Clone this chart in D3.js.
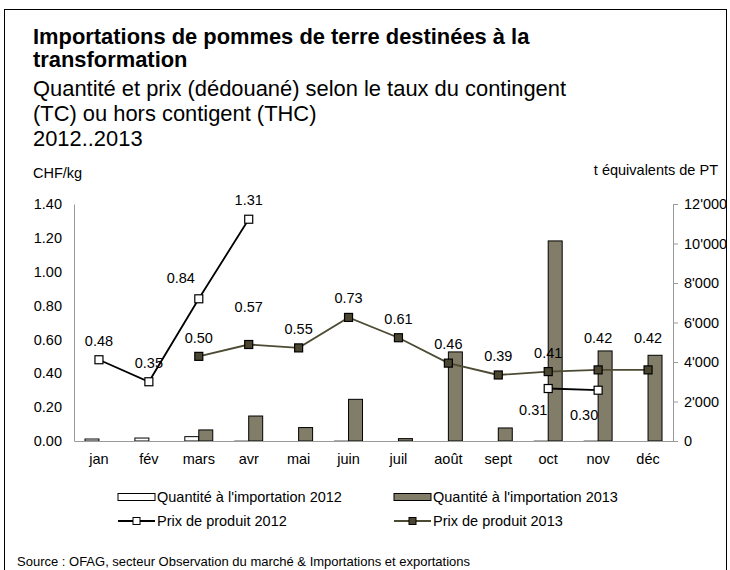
<!DOCTYPE html>
<html>
<head>
<meta charset="utf-8">
<style>
  body { margin: 0; background: #fff; }
  svg text { font-family: "Liberation Sans", Arial, sans-serif; fill: #000; }
</style>
</head>
<body>
<div id="chart"></div>
<script src="https://d3js.org/d3.v7.min.js"></script>
<script>
// data
const months = ['jan', 'fév', 'mars', 'avr', 'mai', 'juin', 'juil', 'août', 'sept', 'oct', 'nov', 'déc'];
const qty2012 = [100, 150, 220, 25, 0, 25, 0, 0, 0, 25, 25, 0];
const qty2013 = [0, 0, 560, 1265, 680, 2110, 120, 4510, 660, 10130, 4560, 4340];
const price2012 = [0.48, 0.35, 0.84, 1.31, null, null, null, null, null, 0.31, 0.30, null];
const price2013 = [null, null, 0.50, 0.57, 0.55, 0.73, 0.61, 0.46, 0.39, 0.41, 0.42, 0.42];
const leftTicks = [0, 0.2, 0.4, 0.6, 0.8, 1.0, 1.2, 1.4];
const rightTicks = [0, 2000, 4000, 6000, 8000, 10000, 12000];

// label nudges (px) like the hand-placed excel labels
const lab2012 = { 'mars': [-18, -21], 'oct': [-15, 21], 'nov': [-14, 25] };
const lab2013 = { 'mars': [0, -18], 'avr': [0, -38], 'nov': [0, -32], 'déc': [0, -32] };

const width = 730, height = 570;
const plotL = 74, plotR = 673, plotT = 204, plotB = 441;
const fs = '14.5px';

const barFill = '#827d69';
const darkFill = '#4b4632';
const lineCol13 = '#4d4a33';

const svg = d3.select('#chart').append('svg')
  .attr('width', width)
  .attr('height', height);

// frame
svg.append('rect')
  .attr('x', 4.5).attr('y', 9.5)
  .attr('width', 722).attr('height', 580)
  .attr('fill', 'none').attr('stroke', '#000').attr('stroke-width', 1);

// titles
const title = svg.append('g').attr('transform', 'translate(33,0)');
title.append('text').attr('y', 44).style('font-size', '21.9px').style('font-weight', 'bold')
  .text('Importations de pommes de terre destinées à la');
title.append('text').attr('y', 67).style('font-size', '21.9px').style('font-weight', 'bold')
  .text('transformation');
title.append('text').attr('y', 96).style('font-size', '21.9px')
  .text('Quantité et prix (dédouané) selon le taux du contingent');
title.append('text').attr('y', 121).style('font-size', '21.9px')
  .text('(TC) ou hors contigent (THC)');
title.append('text').attr('y', 146).style('font-size', '21.9px')
  .text('2012..2013');

svg.append('text').attr('x', 33).attr('y', 178).style('font-size', fs).text('CHF/kg');
svg.append('text').attr('x', 718).attr('y', 175).attr('text-anchor', 'end')
  .style('font-size', fs).text('t équivalents de PT');

// scales
const x = d3.scaleBand().domain(months).range([plotL, plotR]).padding(0);
const yL = d3.scaleLinear().domain([0, 1.4]).range([plotB, plotT]);
const yR = d3.scaleLinear().domain([0, 12000]).range([plotB, plotT]);
const bw = x.bandwidth() * 0.28;
const cx = m => x(m) + x.bandwidth() / 2;

// axes
const axL = svg.append('g').attr('transform', `translate(${plotL},0)`)
  .call(d3.axisLeft(yL).tickValues(leftTicks).tickSize(0).tickPadding(12).tickFormat(d3.format('.2f')));
const axR = svg.append('g').attr('transform', `translate(${plotR},0)`)
  .call(d3.axisRight(yR).tickValues(rightTicks).tickSize(5).tickPadding(6)
    .tickFormat(d => d3.format(',')(d).replace(/,/g, "'")));
[axL, axR].forEach(a => {
  a.select('.domain').attr('stroke', '#9a9a9a');
  a.selectAll('.tick line').attr('stroke', '#9a9a9a');
  a.selectAll('text').style('font-size', fs).attr('font-family', null);
});

// bars
svg.append('g').selectAll('rect')
  .data(months.map((m, i) => ({ m, v: qty2012[i] })).filter(d => d.v > 0))
  .join('rect')
  .attr('x', d => cx(d.m) - bw)
  .attr('y', d => yR(d.v))
  .attr('width', bw)
  .attr('height', d => yR(0) - yR(d.v))
  .attr('fill', '#fff')
  .attr('stroke', d => d.v < 60 ? '#aaa' : '#000')
  .attr('stroke-width', 1);

svg.append('g').selectAll('rect')
  .data(months.map((m, i) => ({ m, v: qty2013[i] })).filter(d => d.v > 0))
  .join('rect')
  .attr('x', d => cx(d.m))
  .attr('y', d => yR(d.v))
  .attr('width', bw)
  .attr('height', d => yR(0) - yR(d.v))
  .attr('fill', barFill)
  .attr('stroke', '#000')
  .attr('stroke-width', 1);

// x axis line
svg.append('g').attr('transform', `translate(0,${plotB})`)
  .call(d3.axisBottom(x).tickSize(0).tickPadding(13))
  .call(g => g.select('.domain').attr('stroke', '#9a9a9a'))
  .call(g => g.selectAll('text').style('font-size', fs).attr('font-family', null));

// lines
function drawSeries(vals, lineColor, markFill, nudge) {
  const pts = months.map((m, i) => ({ m, v: vals[i] }));
  const line = d3.line().defined(d => d.v != null).x(d => cx(d.m)).y(d => yL(d.v));
  svg.append('path').datum(pts)
    .attr('d', line).attr('fill', 'none')
    .attr('stroke', lineColor).attr('stroke-width', 1.8);
  const on = pts.filter(d => d.v != null);
  svg.append('g').selectAll('rect').data(on).join('rect')
    .attr('x', d => cx(d.m) - 4).attr('y', d => yL(d.v) - 4)
    .attr('width', 8).attr('height', 8)
    .attr('fill', markFill).attr('stroke', '#000').attr('stroke-width', 1.2);
  svg.append('g').selectAll('text').data(on).join('text')
    .attr('x', d => cx(d.m) + (nudge[d.m] ? nudge[d.m][0] : 0))
    .attr('y', d => yL(d.v) + (nudge[d.m] ? nudge[d.m][1] : -19) + 5)
    .attr('text-anchor', 'middle')
    .style('font-size', fs)
    .text(d => d3.format('.2f')(d.v));
}
drawSeries(price2012, '#000', '#fff', lab2012);
drawSeries(price2013, lineCol13, darkFill, lab2013);

// legend
const lg = svg.append('g');
const items = [
  { x: 118, y: 497, kind: 'bar', fill: '#fff', label: "Quantité à l'importation 2012" },
  { x: 394, y: 497, kind: 'bar', fill: barFill, label: "Quantité à l'importation 2013" },
  { x: 118, y: 521, kind: 'line', stroke: '#000', fill: '#fff', label: 'Prix de produit 2012' },
  { x: 394, y: 521, kind: 'line', stroke: lineCol13, fill: darkFill, label: 'Prix de produit 2013' }
];
items.forEach(it => {
  if (it.kind === 'bar') {
    lg.append('rect').attr('x', it.x).attr('y', it.y - 3.5).attr('width', 37).attr('height', 7)
      .attr('fill', it.fill).attr('stroke', '#000');
  } else {
    lg.append('line').attr('x1', it.x).attr('x2', it.x + 37).attr('y1', it.y).attr('y2', it.y)
      .attr('stroke', it.stroke).attr('stroke-width', 1.8);
    lg.append('rect').attr('x', it.x + 15).attr('y', it.y - 3.5).attr('width', 7).attr('height', 7)
      .attr('fill', it.fill).attr('stroke', '#000');
  }
  lg.append('text').attr('x', it.x + 39).attr('y', it.y + 5).style('font-size', fs).text(it.label);
});

svg.append('text').attr('x', 17).attr('y', 566).style('font-size', '13px')
  .text('Source : OFAG, secteur Observation du marché & Importations et exportations');
</script>
</body>
</html>
